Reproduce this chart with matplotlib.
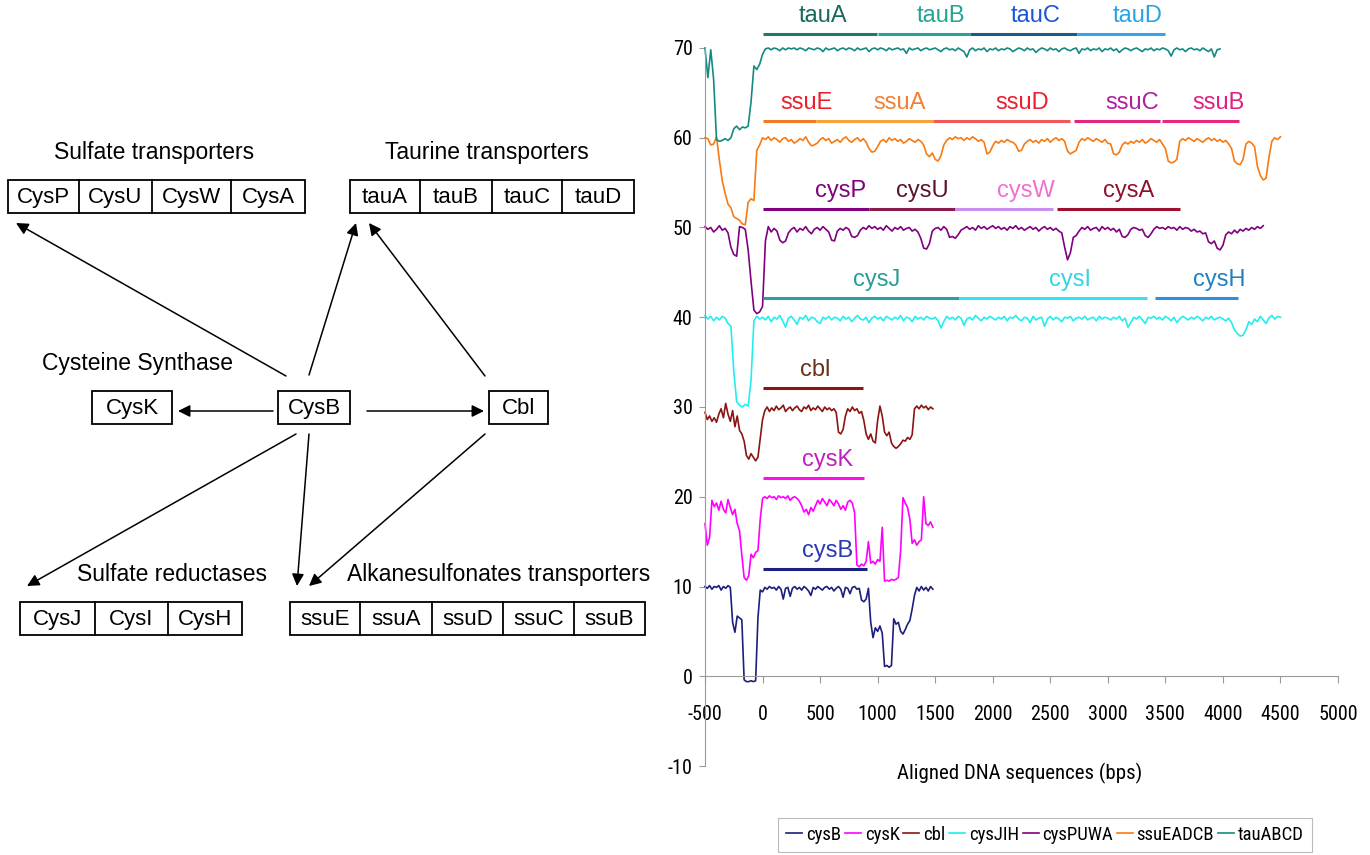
import numpy as np
import matplotlib
matplotlib.use("Agg")
import matplotlib.pyplot as plt
from matplotlib import font_manager
from matplotlib.patches import Rectangle

# percent identity traces (offset by 10 per gene group)
# short traces every 20 bp from -500, long traces every 25 bp from -500
cysB = [10.0, 9.8, 10.1, 9.7, 10.0, 9.9, 10.1, 9.6, 10.0, 9.8,
        10.1, 9.9, 6.0, 4.9, 6.7, 6.5, 6.3, -0.4, -0.6, -0.6,
        -0.5, -0.6, -0.5, 6.5, 9.6, 9.4, 9.9, 9.7, 10.0, 9.8,
        9.9, 9.6, 10.0, 9.7, 8.6, 9.8, 9.9, 8.9, 9.8, 10.0,
        9.7, 9.9, 9.6, 10.0, 9.8, 9.5, 9.0, 9.9, 9.7, 10.0,
        9.8, 9.6, 9.9, 10.0, 9.7, 9.9, 9.5, 9.8, 10.0, 9.7,
        8.8, 9.9, 9.8, 9.2, 9.9, 10.0, 9.7, 9.8, 8.5, 8.3,
        8.6, 9.8, 6.0, 4.3, 5.4, 5.0, 5.6, 4.8, 1.1, 1.2,
        1.0, 1.2, 6.4, 5.8, 6.0, 5.0, 4.7, 5.2, 5.8, 6.2,
        7.5, 9.0, 9.9, 9.5, 10.0, 9.6, 9.9, 9.5, 10.0, 9.7]

cysK = [17.0, 14.6, 15.5, 19.6, 18.9, 19.3, 18.5, 19.5, 18.6, 18.2,
        19.7, 18.8, 18.0, 18.6, 17.0, 16.2, 13.5, 11.0, 10.7, 11.2,
        13.6, 13.2, 13.8, 14.0, 17.5, 19.8, 20.0, 19.8, 20.1, 19.9,
        20.0, 19.7, 20.1, 19.9, 20.0, 19.8, 20.1, 19.6, 19.9, 20.0,
        19.8, 19.5, 19.0, 18.3, 18.6, 18.0, 18.8, 18.4, 19.0, 19.6,
        19.2, 19.8, 19.4, 19.0, 19.7, 19.4, 19.0, 19.6, 19.2, 18.6,
        19.0, 18.5, 19.4, 19.6, 19.3, 18.2, 12.4, 12.2, 12.5, 12.3,
        12.8, 15.0, 12.6, 12.8, 12.5, 13.0, 12.8, 16.6, 10.6, 10.7,
        10.6, 10.8, 10.7, 10.8, 11.0, 14.0, 19.9, 19.3, 18.8, 17.5,
        14.8, 15.2, 14.6, 15.0, 15.2, 20.0, 17.0, 16.8, 17.2, 16.6]

cbl = [29.4, 28.6, 29.0, 28.4, 28.8, 28.3, 29.2, 29.8, 28.8, 30.4,
       29.2, 28.4, 29.6, 27.8, 29.0, 27.4, 27.0, 26.2, 24.6, 24.2,
       24.8, 24.4, 24.0, 24.4, 26.5, 28.6, 29.6, 30.0, 29.5, 29.9,
       29.6, 30.1, 29.7, 29.9, 30.2, 29.5, 29.8, 30.0, 29.6, 29.9,
       30.1, 29.7, 29.5, 30.0, 29.8, 30.2, 29.6, 29.9, 29.7, 30.1,
       29.8, 29.5, 30.0, 29.7, 29.9, 29.6, 29.8, 29.4, 27.2, 27.0,
       27.5, 29.0, 29.8, 29.5, 30.0, 29.6, 29.8, 29.3, 29.5, 28.5,
       27.0, 26.4, 27.0, 26.2, 26.0, 28.5, 30.1, 29.0, 27.2, 26.8,
       27.2, 26.0, 25.6, 25.4, 25.6, 25.9, 26.3, 26.2, 26.6, 26.4,
       26.9, 29.8, 30.1, 29.8, 30.2, 29.9, 30.1, 29.7, 30.0, 29.8]

cysJIH = [40.2, 39.8, 40.1, 39.6, 40.0, 39.7, 40.1, 39.9, 39.3, 39.0,
          34.0, 30.6, 30.2, 30.0, 30.3, 30.1, 33.0, 39.6, 40.1, 39.8,
          40.0, 39.7, 40.1, 39.5, 40.0, 39.8, 40.2, 39.6, 38.9, 39.9,
          40.1, 39.7, 39.2, 40.0, 39.8, 40.2, 39.6, 40.0, 39.9, 39.5,
          39.3, 40.0, 39.8, 40.1, 39.7, 40.0, 39.9, 39.6, 40.1, 39.8,
          40.0, 39.5, 39.9, 40.2, 39.8, 39.7, 40.0, 39.4, 39.9, 40.1,
          39.8, 40.0, 39.6, 40.1, 39.9, 39.7, 40.0, 39.8, 40.2, 39.6,
          40.0, 39.9, 39.5, 40.1, 39.8, 40.0, 39.7, 40.1, 39.9, 39.8,
          40.0, 39.6, 38.8, 39.5, 40.1, 39.8, 40.0, 39.7, 40.1, 39.9,
          39.1, 39.8, 40.0, 39.7, 40.2, 39.9, 39.6, 40.0, 39.8, 40.1,
          39.9, 39.7, 40.0, 39.8, 40.1, 39.6, 40.0, 39.9, 40.2, 39.8,
          39.6, 40.0, 39.9, 39.4, 40.1, 39.7, 39.9, 40.0, 39.0, 39.8,
          40.1, 39.7, 40.0, 39.8, 39.5, 40.0, 39.9, 40.1, 39.6, 39.9,
          40.0, 39.8, 40.1, 39.7, 39.9, 40.0, 39.6, 40.1, 39.8, 40.0,
          39.9, 39.7, 40.0, 39.8, 40.1, 39.6, 39.9, 38.9, 39.4, 40.0,
          39.8, 40.1, 39.7, 39.3, 40.0, 39.9, 40.1, 39.8, 40.0, 39.7,
          40.1, 39.9, 39.6, 40.0, 39.4, 39.8, 40.1, 39.9, 39.7, 40.0,
          39.8, 40.1, 39.9, 39.6, 40.0, 39.8, 40.1, 39.7, 39.9, 40.0,
          39.8, 39.6, 39.9, 39.4, 38.6, 38.2, 37.9, 38.0, 38.6, 39.5,
          39.2, 39.8, 39.5, 40.1, 39.7, 39.3, 39.9, 40.2, 39.8, 40.1,
          40.0]

cysPUWA = [50.1, 49.8, 50.0, 49.5, 49.8, 50.2, 49.7, 49.9, 49.4, 47.8,
           47.0, 46.8, 50.1, 50.0, 49.8, 47.5, 44.0, 40.8, 40.4, 40.6,
           41.2, 48.5, 50.1, 49.5, 49.9, 49.6, 48.6, 48.3, 48.5, 49.4,
           49.8, 50.0, 49.5, 49.9, 49.7, 50.1, 49.6, 49.3, 49.8, 50.0,
           49.7, 50.1, 49.8, 49.5, 48.6, 48.5, 49.6, 49.9, 49.7, 50.0,
           49.8, 49.0, 48.9, 49.1, 49.7, 50.0, 49.8, 50.2, 49.9, 50.1,
           49.8, 50.0, 49.7, 50.2, 49.9, 49.6, 50.0, 49.8, 50.1, 49.7,
           49.9, 50.0, 49.6, 49.8, 49.5, 48.8, 47.7, 47.6, 48.2, 49.6,
           49.9, 50.0, 49.7, 50.1, 49.8, 48.9, 49.0, 48.8, 49.2, 49.7,
           49.9, 50.1, 49.8, 50.0, 49.7, 50.2, 49.9, 50.1, 49.8, 50.0,
           50.2, 49.9, 50.1, 49.8, 50.0, 49.7, 50.1, 49.9, 50.2, 49.8,
           50.0, 49.7, 49.9, 50.1, 49.8, 50.0, 49.6, 49.9, 50.1, 49.8,
           50.0, 49.7, 49.9, 49.6, 49.4, 47.8, 46.4, 47.2, 48.9, 49.1,
           49.6, 50.0, 49.8, 50.1, 49.7, 49.9, 50.0, 49.6, 50.1, 49.8,
           50.0, 49.7, 49.9, 49.5, 49.8, 49.0, 48.9, 49.2, 49.8, 50.0,
           49.9, 49.7, 49.8, 49.1, 48.9, 49.3, 49.8, 50.1, 49.9, 50.0,
           49.8, 50.1, 49.9, 50.0, 49.7, 50.1, 49.8, 50.0, 49.9, 49.6,
           49.8, 49.5, 49.6, 49.3, 49.4, 48.4, 48.2, 48.5, 47.7, 47.5,
           48.0, 49.2, 49.5, 49.3, 49.7, 49.4, 49.8, 49.6, 49.9, 49.7,
           50.0, 49.8, 50.1, 49.9, 50.2]

ssuEADCB = [60.0, 59.9, 59.2, 59.3, 60.1, 57.5, 55.2, 53.8, 52.6, 52.2,
            51.2, 51.0, 50.8, 50.4, 50.3, 52.8, 53.2, 53.0, 58.6, 59.2,
            60.0, 59.8, 60.1, 59.7, 60.0, 59.8, 59.5, 59.9, 60.0, 59.6,
            59.8, 59.4, 59.6, 59.9, 59.7, 60.1, 59.5, 59.1, 59.2, 59.4,
            59.8, 60.0, 59.7, 59.9, 59.4, 59.6, 59.8, 59.5, 59.9, 60.1,
            59.7, 59.5, 59.8, 60.0, 59.6, 59.9, 59.5, 58.8, 58.4, 58.5,
            59.0, 59.6, 59.8, 59.5, 60.0, 59.7, 59.9, 59.6, 59.8, 59.4,
            59.6, 59.9, 59.7, 59.5, 59.8, 59.6, 59.2, 58.2, 57.9, 58.3,
            57.6, 57.4, 58.0, 59.2, 59.7, 60.0, 59.8, 60.1, 59.9, 60.0,
            59.7, 60.0, 59.8, 60.1, 59.9, 59.6, 59.8, 59.5, 58.2, 58.4,
            59.1, 59.6, 59.4, 59.7, 59.5, 59.8, 59.6, 59.5, 59.2, 58.5,
            58.6, 59.3, 59.6, 59.8, 59.5, 59.7, 59.4, 59.8, 59.6, 59.9,
            59.5, 59.8, 60.0, 59.7, 59.9, 59.6, 58.5, 58.2, 58.4, 58.6,
            59.5, 59.9, 59.7, 60.0, 59.8, 59.6, 59.9, 59.7, 59.5, 59.8,
            59.4, 59.3, 58.2, 58.1, 58.4, 59.2, 59.5, 59.3, 59.6, 59.4,
            59.7, 59.5, 59.8, 59.4, 59.6, 59.9, 59.7, 59.5, 59.8, 59.3,
            58.8, 57.4, 57.2, 57.3, 57.6, 59.6, 59.9, 59.7, 60.0, 59.8,
            59.6, 59.9, 59.7, 59.5, 59.8, 60.0, 59.7, 59.9, 59.6, 59.8,
            59.5, 59.7, 59.3, 58.8, 57.4, 57.1, 57.0, 57.6, 59.3, 59.6,
            59.4, 59.0, 56.8, 55.8, 55.3, 55.5, 57.8, 59.6, 60.0, 59.8,
            60.1]

tauABCD = [70.0, 66.7, 69.8, 66.5, 59.8, 59.6, 59.7, 59.9, 59.7, 60.0,
           61.0, 61.3, 60.9, 61.2, 61.1, 61.3, 64.0, 68.0, 67.6, 68.2,
           69.3, 69.9, 70.0, 69.8, 70.0, 69.9, 69.7, 70.0, 69.8, 70.0,
           69.9, 70.0, 69.8, 70.0, 69.9, 69.7, 70.0, 69.9, 69.8, 70.0,
           69.9, 69.6, 70.0, 69.8, 69.9, 70.0, 69.7, 69.9, 70.0, 69.8,
           70.0, 69.9, 69.7, 70.0, 69.8, 69.9, 70.0, 69.6, 69.9, 70.0,
           69.8, 70.0, 69.9, 69.7, 70.0, 69.8, 69.9, 70.0, 69.8, 69.9,
           69.4, 70.0, 69.8, 69.9, 70.0, 69.7, 69.9, 70.0, 69.8, 69.9,
           70.0, 69.8, 69.6, 69.9, 70.0, 69.8, 69.9, 69.7, 70.0, 69.8,
           69.6, 69.0, 69.8, 70.0, 69.7, 69.9, 69.8, 70.0, 69.6, 69.9,
           69.8, 70.0, 69.7, 69.9, 69.8, 70.0, 69.9, 69.6, 69.8, 70.0,
           69.9, 69.7, 70.0, 69.8, 69.9, 69.5, 69.8, 70.0, 69.9, 69.7,
           70.0, 69.8, 69.9, 69.6, 69.9, 70.0, 69.8, 69.7, 69.9, 70.0,
           69.4, 69.9, 69.8, 70.0, 69.7, 69.9, 69.8, 70.0, 69.6, 69.9,
           69.8, 70.0, 69.7, 69.9, 69.5, 69.8, 70.0, 69.9, 69.7, 69.9,
           70.0, 69.8, 69.6, 69.9, 69.8, 70.0, 69.7, 69.9, 69.8, 70.0,
           69.9, 69.7, 69.1, 69.8, 70.0, 69.8, 69.9, 69.6, 69.9, 70.0,
           69.8, 69.9, 69.7, 70.0, 69.8, 69.6, 69.9, 69.0, 69.8, 69.9]

trace_names = ['cysB', 'cysK', 'cbl', 'cysJIH', 'cysPUWA', 'ssuEADCB', 'tauABCD']
trace_vals = [cysB, cysK, cbl, cysJIH, cysPUWA, ssuEADCB, tauABCD]
trace_step = [20, 20, 20, 25, 25, 25, 25]
trace_colors = ['#1c1f7c', '#ff00ff', '#8b1414', '#22eeee', '#800080', '#f77a12', '#138a80']

# gene annotations: name, start, end (bp), level (%), label centre (bp)
gene_names = ['tauA', 'tauB', 'tauC', 'tauD',
              'ssuE', 'ssuA', 'ssuD', 'ssuC', 'ssuB',
              'cysP', 'cysU', 'cysW', 'cysA',
              'cysJ', 'cysI', 'cysH',
              'cbl', 'cysK', 'cysB']
gene_start = [0, 1000, 1805, 2728,
              0, 465, 1485, 2710, 3475,
              0, 925, 1673, 2557,
              0, 1707, 3407,
              0, 0, 0]
gene_end = [995, 1805, 2728, 3500,
            465, 1485, 2670, 3450, 4140,
            925, 1673, 2523, 3628,
            1707, 3339, 4131,
            874, 884, 908]
gene_level = [71.6] * 4 + [61.9] * 5 + [52.1] * 4 + [42.1] * 3 + [32.1, 22.1, 12.0]
gene_label_x = [527, 1553, 2370, 3258,
                380, 1187, 2260, 3213, 3960,
                677, 1391, 2285, 3179,
                993, 2669, 3968,
                459, 561, 561]
gene_bar_color = ['#1a7a6c', '#25a393', '#1b5a8c', '#33a7e3',
                  '#f27a25', '#f7a23a', '#f05a5a', '#e0267e', '#e8287a',
                  '#800080', '#8a1c4c', '#c890f2', '#9c1030',
                  '#2aa0a0', '#33e3f0', '#2a90e0',
                  '#8b1414', '#ff10e8', '#1c237e']
gene_text_color = ['#176a5c', '#25a393', '#1a55d8', '#2aa3e3',
                   '#e8202a', '#f28032', '#e82030', '#b0209e', '#e02080',
                   '#800080', '#5a1230', '#f070d0', '#901030',
                   '#2a9a9a', '#33d3e3', '#2080c0',
                   '#6a3018', '#c020c0', '#2a3ab0']

plt.rcParams['font.family'] = ['Liberation Sans', 'DejaVu Sans']
plt.rcParams['axes.unicode_minus'] = False

# the axis texts of the chart use a narrow face; fall back to a smaller regular one
installed = {f.name for f in font_manager.fontManager.ttflist}
narrow_name = next((n for n in ['Liberation Sans Narrow', 'Arial Narrow', 'Roboto Condensed',
                                'Open Sans Condensed'] if n in installed), None)
if narrow_name:
    narrow = [narrow_name, 'Liberation Sans']
    nscale = 1.0
else:
    narrow = ['Liberation Sans', 'DejaVu Sans']
    nscale = 0.84

fig = plt.figure(figsize=(13.7, 8.55), dpi=100)

# ---------- left: regulatory diagram (pixel coordinates) ----------
dax = fig.add_axes([0, 0, 1, 1])
dax.set_xlim(0, 1370)
dax.set_ylim(855, 0)
dax.axis('off')


def box_row(x0, x1, y0, y1, dividers, labels):
    dax.add_patch(Rectangle((x0, y0), x1 - x0, y1 - y0, fill=False, ec='black', lw=1.3))
    edges = [x0] + dividers + [x1]
    for d in dividers:
        dax.plot([d, d], [y0, y1], color='black', lw=1.3)
    for i, lab in enumerate(labels):
        dax.text((edges[i] + edges[i + 1]) / 2, (y0 + y1) / 2 + 1, lab,
                 ha='center', va='center', fontsize=16)


def arrow(x0, y0, x1, y1):
    dax.annotate('', xy=(x1, y1), xytext=(x0, y0),
                 arrowprops=dict(arrowstyle='-|>', color='black', lw=1.1,
                                 mutation_scale=18, shrinkA=0, shrinkB=0))


dax.text(154, 152, 'Sulfate transporters', ha='center', va='center', fontsize=16.5)
dax.text(487, 152, 'Taurine transporters', ha='center', va='center', fontsize=16.5)
dax.text(138, 363, 'Cysteine Synthase', ha='center', va='center', fontsize=16.5)
dax.text(172, 574, 'Sulfate reductases', ha='center', va='center', fontsize=16.5)
dax.text(499, 574, 'Alkanesulfonates transporters', ha='center', va='center', fontsize=16.5)

box_row(8, 305, 180, 213, [79, 152, 231], ['CysP', 'CysU', 'CysW', 'CysA'])
box_row(350, 634, 180, 213, [420, 492, 562], ['tauA', 'tauB', 'tauC', 'tauD'])
box_row(92, 172, 391, 424, [], ['CysK'])
box_row(278, 350, 391, 424, [], ['CysB'])
box_row(489, 548, 391, 424, [], ['Cbl'])
box_row(20, 242, 602, 635, [95, 168], ['CysJ', 'CysI', 'CysH'])
box_row(290, 645, 602, 635, [360, 432, 503, 574], ['ssuE', 'ssuA', 'ssuD', 'ssuC', 'ssuB'])

arrow(273, 411, 178, 411)
arrow(367, 411, 484, 411)
arrow(286, 376, 16, 223)
arrow(309, 375, 356, 223)
arrow(485, 376, 369, 223)
arrow(296, 434, 27, 586)
arrow(309, 434, 297, 586)
arrow(485, 434, 309, 586)

# ---------- right: identity traces ----------
ax = fig.add_axes([705 / 1370, 1 - 766 / 855, (1338 - 705) / 1370, (766 - 48) / 855])
ax.set_xlim(-500, 5000)
ax.set_ylim(-10, 70)

handles = []
for name, vals, step, col in zip(trace_names, trace_vals, trace_step, trace_colors):
    xs = -500 + step * np.arange(len(vals))
    h, = ax.plot(xs, vals, color=col, lw=1.2, label=name, clip_on=False)
    handles.append(h)

for i in range(len(gene_names)):
    ax.plot([gene_start[i], gene_end[i]], [gene_level[i], gene_level[i]],
            color=gene_bar_color[i], lw=2.2, solid_capstyle='butt', clip_on=False)
    ax.text(gene_label_x[i], gene_level[i] + 2.0, gene_names[i], color=gene_text_color[i],
            ha='center', va='center', fontsize=17, clip_on=False)

for s in ['top', 'right']:
    ax.spines[s].set_visible(False)
ax.spines['bottom'].set_position(('data', 0))
ax.spines['bottom'].set_color('#9a9a9a')
ax.spines['left'].set_color('#9a9a9a')
ax.set_xticks(np.arange(-500, 5001, 500))
ax.set_yticks(np.arange(-10, 71, 10))
ax.tick_params(axis='x', direction='out', length=5, pad=16, color='#9a9a9a', labelsize=14.5 * nscale)
ax.tick_params(axis='y', direction='out', length=4, pad=5, color='#9a9a9a', labelsize=14.5 * nscale)
for lab in ax.get_xticklabels() + ax.get_yticklabels():
    lab.set_family(narrow)

fig.text(1020 / 1370, 1 - 773 / 855, 'Aligned DNA sequences (bps)', ha='center', va='center',
         fontsize=15 * nscale, family=narrow)

leg = fig.legend(handles=handles, loc='center', bbox_to_anchor=(1045 / 1370, 1 - 835 / 855),
                 ncol=7, frameon=True, fancybox=False, edgecolor='#aaaaaa',
                 handlelength=0.85, handletextpad=0.2, columnspacing=0.2,
                 borderpad=0.45, prop={'family': narrow, 'size': 13.5 * nscale})
leg.get_frame().set_linewidth(0.8)

fig.savefig('out.png', dpi=100)
